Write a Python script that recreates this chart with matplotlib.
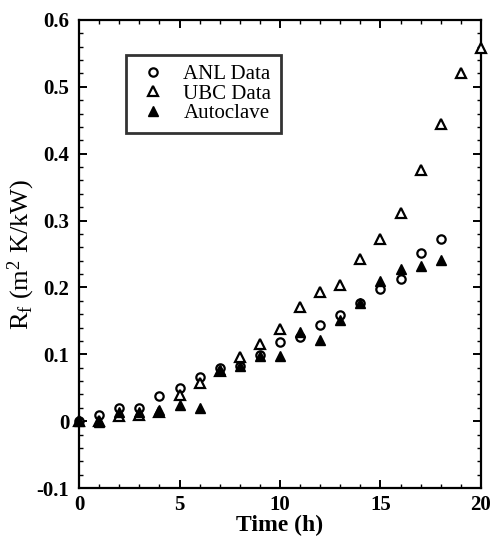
import matplotlib
matplotlib.use("Agg")
import matplotlib.pyplot as plt
from matplotlib.ticker import MultipleLocator, FuncFormatter

plt.rcParams['font.family'] = ['Liberation Serif', 'DejaVu Serif']
plt.rcParams['mathtext.fontset'] = 'custom'
plt.rcParams['mathtext.rm'] = 'Liberation Serif'
plt.rcParams['mathtext.it'] = 'Liberation Serif'

anl_t = [0, 1, 2, 3, 4, 5, 6, 7, 8, 9, 10, 11, 12, 13, 14, 15, 16, 17, 18]
anl_r = [0.0, 0.009, 0.020, 0.020, 0.037, 0.050, 0.066, 0.080, 0.083, 0.099, 0.119,
         0.126, 0.144, 0.159, 0.176, 0.197, 0.212, 0.252, 0.272]

ubc_t = [0, 1, 2, 3, 4, 5, 6, 7, 8, 9, 10, 11, 12, 13, 14, 15, 16, 17, 18, 19, 20]
ubc_r = [0.0, 0.0, 0.008, 0.009, 0.014, 0.039, 0.057, 0.075, 0.096, 0.116, 0.138,
         0.170, 0.193, 0.203, 0.242, 0.272, 0.312, 0.375, 0.445, 0.520, 0.558]

auto_t = [0, 1, 2, 3, 4, 5, 6, 7, 8, 9, 10, 11, 12, 13, 14, 15, 16, 17, 18]
auto_r = [0.0, -0.001, 0.014, 0.014, 0.016, 0.024, 0.019, 0.077, 0.083, 0.098, 0.098,
          0.133, 0.121, 0.152, 0.177, 0.210, 0.228, 0.232, 0.241]

fig = plt.figure(figsize=(4.92, 5.42), dpi=100)
ax = fig.add_axes([0.1606, 0.0996, 0.8170, 0.8635])

ax.plot(anl_t, anl_r, linestyle='none', marker='o', markersize=6, mfc='white',
        mec='black', mew=1.6, label='ANL Data', clip_on=False, zorder=3)
ax.plot(ubc_t, ubc_r, linestyle='none', marker='^', markersize=7.5, mfc='white',
        mec='black', mew=1.6, label='UBC Data', clip_on=False, zorder=3)
ax.plot(auto_t, auto_r, linestyle='none', marker='^', markersize=7.5, mfc='black',
        mec='black', mew=1.0, label='Autoclave', clip_on=False, zorder=4)

ax.set_xlim(0, 20)
ax.set_ylim(-0.1, 0.6)
ax.xaxis.set_major_locator(MultipleLocator(5))
ax.xaxis.set_minor_locator(MultipleLocator(1))
ax.yaxis.set_major_locator(MultipleLocator(0.1))
ax.yaxis.set_minor_locator(MultipleLocator(0.02))

def yfmt(v, pos):
    if abs(v) < 1e-9:
        return '0'
    return f'{v:.1f}'
ax.yaxis.set_major_formatter(FuncFormatter(yfmt))

ax.tick_params(which='both', direction='in', top=True, right=True, labelsize=15)
ax.tick_params(axis='y', pad=7)
ax.tick_params(axis='x', pad=5)
ax.tick_params(which='major', length=6, width=1.4)
ax.tick_params(which='minor', length=3, width=1.0)
for lab in ax.get_xticklabels() + ax.get_yticklabels():
    lab.set_fontweight('bold')
for s in ax.spines.values():
    s.set_linewidth(1.6)

ax.set_xlabel('Time (h)', fontsize=17, fontweight='bold', labelpad=0)
ax.set_ylabel(r'R$_\mathrm{f}$ (m$^2$ K/kW)', fontsize=19, labelpad=0)

leg = ax.legend(loc='upper left', bbox_to_anchor=(0.117, 0.925), frameon=True,
                fancybox=False, edgecolor='black', handletextpad=0.6,
                borderpad=0.45, labelspacing=0.0, handlelength=1.7,
                borderaxespad=0, prop={'size': 15})
leg.get_frame().set_linewidth(2.0)

fig.savefig('out.png', dpi=100)
